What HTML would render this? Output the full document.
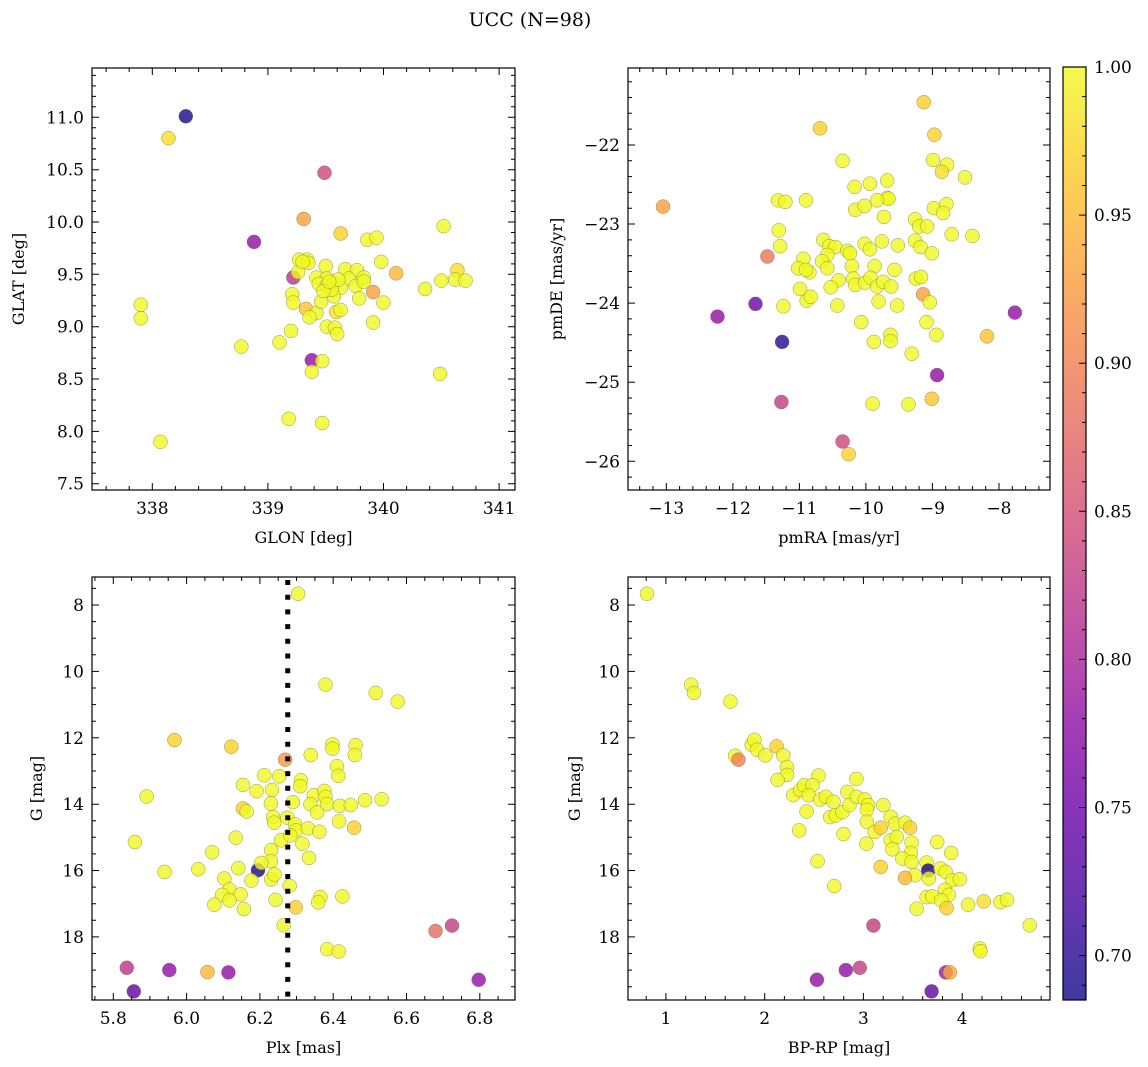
<!DOCTYPE html>
<html><head><meta charset="utf-8"><style>
html,body{margin:0;padding:0;background:#fff;}
svg{display:block;font-family:"DejaVu Serif","Liberation Serif",serif;}
</style></head><body>
<svg id="fig" width="1148" height="1067" viewBox="0 0 1148 1067" xmlns="http://www.w3.org/2000/svg">
<defs>
<linearGradient id="plasmaGrad" x1="0" y1="1" x2="0" y2="0">
<stop offset="0" stop-color="#0d0887"/><stop offset="0.1" stop-color="#41049d"/><stop offset="0.2" stop-color="#6a00a8"/><stop offset="0.3" stop-color="#8f0da4"/><stop offset="0.4" stop-color="#b12a90"/><stop offset="0.5" stop-color="#cc4778"/><stop offset="0.6" stop-color="#e16462"/><stop offset="0.7" stop-color="#f2844b"/><stop offset="0.8" stop-color="#fca636"/><stop offset="0.9" stop-color="#fcce25"/><stop offset="1" stop-color="#f0f921"/>
</linearGradient>
</defs>
<text x="530" y="26" font-size="19" text-anchor="middle">UCC (N=98)</text>
</svg>
<script>
// Panel 1: GLON / GLAT
const p1Glon=[338.29,338.14,339.49,339.31,338.88,337.90,337.90,338.77,338.07,339.18,339.47,339.38,339.47,339.38,340.52,340.49,339.63,339.86,339.94,339.98,340.11,340.36,340.50,340.64,340.62,340.71,339.91,340.00,339.91,339.22,339.26,339.27,339.34,339.35,339.30,339.21,339.22,339.33,339.42,339.36,339.20,339.10,339.51,339.58,339.60,339.59,339.63,339.46,339.50,339.67,339.77,339.70,339.76,339.83,339.83,339.79,339.42,339.51,339.44,339.51,339.57,339.63,339.57,339.55,339.48,339.61,339.53];
const p1Glat=[11.01,10.80,10.47,10.03,9.81,9.21,9.08,8.81,7.90,8.12,8.08,8.68,8.67,8.57,9.96,8.55,9.89,9.83,9.85,9.62,9.51,9.36,9.44,9.54,9.45,9.44,9.33,9.23,9.04,9.47,9.52,9.64,9.64,9.61,9.62,9.31,9.23,9.17,9.13,9.09,8.96,8.85,9.00,8.99,8.93,9.14,9.16,9.24,9.58,9.55,9.54,9.46,9.39,9.47,9.43,9.27,9.47,9.46,9.41,9.39,9.41,9.37,9.29,9.35,9.34,9.45,9.43];
const p1Prob=[0.69,0.98,0.84,0.93,0.78,1,1,1,1,1,1,0.78,1,1,1,1,0.97,1,1,1,0.95,1,1,0.98,1,1,0.93,1,1,0.82,1,1,1,1,1,1,1,0.96,1,1,1,1,1,1,1,0.98,1,1,1,1,1,1,1,1,1,1,1,1,1,1,1,1,1,1,1,1,1];
// Panel 2: pmRA / pmDE
const p2PmRA=[-13.05,-11.48,-11.66,-12.23,-11.26,-11.27,-10.35,-10.26,-7.76,-8.93,-9.01,-9.14,-9.13,-8.97,-10.69,-10.35,-8.99,-8.78,-8.86,-8.51,-10.17,-9.94,-9.68,-9.68,-9.66,-9.83,-10.16,-10.02,-9.73,-8.98,-8.79,-8.84,-11.32,-11.21,-10.90,-11.31,-11.29,-9.26,-9.20,-9.08,-8.71,-8.40,-10.64,-10.55,-10.46,-10.58,-10.66,-10.58,-10.28,-10.24,-10.02,-9.94,-9.76,-9.52,-9.26,-9.18,-9.01,-10.94,-11.02,-10.85,-10.90,-10.21,-9.87,-9.57,-10.19,-10.41,-10.53,-10.16,-10.01,-9.93,-9.83,-9.74,-9.62,-10.99,-10.89,-10.83,-9.25,-9.17,-10.43,-9.81,-9.53,-11.24,-9.04,-10.07,-9.09,-8.94,-9.63,-9.63,-9.88,-9.31,-8.18,-9.90,-9.36];
const p2PmDE=[-22.78,-23.41,-24.01,-24.17,-24.49,-25.25,-25.75,-25.91,-24.12,-24.91,-25.21,-23.89,-21.46,-21.87,-21.79,-22.20,-22.19,-22.25,-22.34,-22.41,-22.53,-22.49,-22.45,-22.67,-22.68,-22.70,-22.82,-22.77,-22.91,-22.80,-22.75,-22.86,-22.70,-22.72,-22.70,-23.08,-23.28,-22.94,-23.03,-23.03,-23.13,-23.15,-23.20,-23.28,-23.29,-23.39,-23.47,-23.56,-23.34,-23.37,-23.25,-23.32,-23.22,-23.27,-23.21,-23.29,-23.37,-23.44,-23.56,-23.61,-23.58,-23.53,-23.53,-23.58,-23.69,-23.71,-23.80,-23.77,-23.74,-23.68,-23.79,-23.73,-23.79,-23.82,-23.97,-23.92,-23.69,-23.67,-24.03,-23.98,-24.03,-24.04,-23.99,-24.24,-24.24,-24.40,-24.40,-24.48,-24.49,-24.64,-24.42,-25.27,-25.28];
const p2Prob=[0.93,0.89,0.75,0.78,0.70,0.83,0.84,0.97,0.78,0.78,0.96,0.93,0.97,0.97,0.97,1,1,1,0.98,1,1,1,1,1,1,1,1,1,1,1,1,1,1,1,1,1,1,1,1,1,1,1,1,1,1,1,1,1,1,1,1,1,1,1,1,1,1,1,1,1,1,1,1,1,1,1,1,1,1,1,1,1,1,1,1,1,1,1,1,1,1,1,1,1,1,1,1,1,1,1,0.96,1,1];
// Panel 3: Plx / G
const p3Plx=[6.304,6.379,6.516,6.576,5.967,6.122,6.269,6.339,6.398,6.398,6.461,6.459,6.410,6.414,5.891,5.859,6.212,6.253,6.154,6.191,6.233,6.312,6.310,6.230,6.290,6.347,6.376,6.379,6.338,6.383,6.418,6.448,6.487,6.532,6.154,6.164,6.356,6.236,6.239,6.275,6.416,6.457,6.296,6.299,6.331,6.362,6.258,6.283,6.316,6.134,6.070,6.334,6.231,6.230,5.940,6.032,6.195,6.204,6.141,6.103,6.177,6.231,6.240,6.117,6.147,6.097,6.076,6.117,6.156,6.243,6.281,6.298,6.365,6.359,6.425,6.265,6.384,6.415,6.679,6.724,5.837,5.953,6.057,6.114,5.856,6.797];
const p3G=[7.66,10.40,10.65,10.91,12.07,12.27,12.66,12.52,12.20,12.33,12.22,12.52,12.86,13.15,13.77,15.14,13.13,13.16,13.42,13.61,13.57,13.28,13.46,13.98,13.94,13.73,13.60,13.78,14.00,14.00,14.05,14.03,13.88,13.85,14.13,14.22,14.25,14.39,14.56,14.41,14.52,14.71,14.61,14.79,14.73,14.83,15.09,14.94,15.19,15.01,15.45,15.62,15.39,15.72,16.04,15.96,15.99,15.77,15.93,16.24,16.30,16.27,16.12,16.57,16.72,16.73,17.03,16.90,17.16,16.88,16.46,17.11,16.80,16.96,16.78,17.65,18.37,18.44,17.82,17.66,18.93,19.00,19.06,19.07,19.64,19.29];
const p3Prob=[1,1,1,1,0.97,0.97,0.92,1,1,1,1,1,1,1,1,1,1,1,1,1,1,1,1,1,1,1,1,1,1,1,1,1,1,1,0.97,1,1,1,1,1,1,0.97,1,1,1,1,1,1,1,1,1,1,1,1,1,1,0.69,1,1,1,1,1,1,1,1,1,1,1,1,1,1,0.97,1,1,1,1,1,1,0.88,0.83,0.82,0.78,0.95,0.78,0.74,0.78];
const p3PlxMean=[6.276];
// Panel 4: BP-RP / G
const p4BpRp=[0.808,1.256,1.283,1.653,1.700,1.734,1.869,1.896,1.922,2.007,2.121,2.188,2.226,2.226,2.131,2.545,2.929,2.289,2.360,2.400,2.485,2.444,2.562,2.619,2.697,2.663,2.720,2.788,2.858,2.838,2.932,3.013,3.047,3.034,2.424,2.350,2.798,3.034,3.114,3.175,3.202,3.030,3.276,3.320,3.421,3.471,3.276,3.337,3.293,3.488,3.481,3.394,3.488,2.535,3.175,3.747,3.889,3.640,3.656,3.781,3.832,3.522,3.421,3.663,3.899,3.976,2.704,3.825,3.865,3.640,3.697,3.788,3.842,3.539,4.060,4.219,4.387,4.455,4.683,3.101,4.178,4.185,2.963,2.821,2.529,3.835,3.875,3.690];
const p4G=[7.66,10.40,10.65,10.91,12.54,12.66,12.21,12.06,12.36,12.53,12.26,12.53,12.88,13.12,13.27,13.14,13.24,13.73,13.58,13.43,13.43,13.73,13.86,13.78,13.93,14.39,14.34,14.24,14.03,13.63,13.78,13.86,14.03,14.17,14.22,14.79,14.90,14.53,14.84,14.71,14.03,15.19,14.38,14.59,14.56,14.71,15.09,14.99,15.36,15.16,15.47,15.64,15.74,15.72,15.89,15.14,15.47,15.76,16.00,15.94,16.04,16.14,16.22,16.24,16.29,16.26,16.47,16.58,16.73,16.80,16.78,16.90,17.13,17.15,17.03,16.93,16.95,16.88,17.65,17.66,18.35,18.43,18.93,19.00,19.29,19.07,19.07,19.64];
const p4Prob=[1,1,1,1,1,0.90,1,1,1,1,0.97,1,1,1,1,1,1,1,1,1,1,1,1,1,1,1,1,1,1,1,1,1,1,1,1,1,1,1,1,0.97,1,1,1,1,1,0.97,1,1,1,1,1,1,1,1,0.97,1,1,1,0.69,1,1,1,0.95,1,1,1,1,1,1,1,1,1,0.97,1,1,0.98,1,1,1,0.83,1,1,0.83,0.78,0.78,0.79,0.94,0.74];
// Colorbar
const cbTicks=[0.70,0.75,0.80,0.85,0.90,0.95,1.00];
const cbMin=0.685, cbMax=1.0;

const NS='http://www.w3.org/2000/svg';
const svg=document.getElementById('fig');
function mk(tag,attrs,parent){const e=document.createElementNS(NS,tag);for(const k in attrs)e.setAttribute(k,attrs[k]);(parent||svg).appendChild(e);return e;}
const stops=[[13,8,135],[65,4,157],[106,0,168],[143,13,164],[177,42,144],[204,71,120],[225,100,98],[242,132,75],[252,166,54],[252,206,37],[240,249,33]];
function plasma(v){let t=(v-cbMin)/(cbMax-cbMin);t=Math.max(0,Math.min(1,t));const f=t*10;const i=Math.min(9,Math.floor(f));const r=f-i;const a=stops[i],b=stops[i+1];return 'rgb('+a.map((c,j)=>Math.round(c+(b[j]-c)*r)).join(',')+')';}
function fmt(v,d){return (v<0?'\u2212':'')+Math.abs(v).toFixed(d);}

function panel(cfg){
  const g=mk('g',{});
  
  
  const {x0,x1,y0,y1,xmin,xmax,ymin,ymax,inv}=cfg;
  const sx=v=>x0+(v-xmin)/(xmax-xmin)*(x1-x0);
  const sy=v=>inv? y0+(v-ymin)/(ymax-ymin)*(y1-y0) : y1-(v-ymin)/(ymax-ymin)*(y1-y0);
  const pg=mk('g',{},g);
  
  
  for(let i=0;i<cfg.xs.length;i++){
    const c=mk('circle',{cx:sx(cfg.xs[i]).toFixed(1),cy:sy(cfg.ys[i]).toFixed(1),r:7,fill:plasma(cfg.cs[i]),'fill-opacity':0.8,stroke:'#6a6a40','stroke-width':0.5,'stroke-opacity':0.7},pg);
    
    
  }
  if(cfg.extra)cfg.extra(g,sx,sy);
  const fr=mk('rect',{x:x0,y:y0,width:x1-x0,height:y1-y0,fill:'none',stroke:'#000','stroke-width':1.2},g);
  
  
  let d='';
  const eps=1e-9;
  for(let v=Math.ceil(xmin/cfg.xminor-eps)*cfg.xminor;v<=xmax+eps;v+=cfg.xminor){
    const maj=Math.abs(v/cfg.xmajor-Math.round(v/cfg.xmajor))<1e-6;const L=maj?7:4;const x=sx(v).toFixed(1);
    d+=`M${x} ${y1}v${-L}M${x} ${y0}v${L}`;
  }
  for(let v=Math.ceil(ymin/cfg.yminor-eps)*cfg.yminor;v<=ymax+eps;v+=cfg.yminor){
    const maj=Math.abs(v/cfg.ymajor-Math.round(v/cfg.ymajor))<1e-6;const L=maj?7:4;const y=sy(v).toFixed(1);
    d+=`M${x0} ${y}h${L}M${x1} ${y}h${-L}`;
  }
  mk('path',{d:d,stroke:'#000','stroke-width':1,fill:'none'},g);
  const xt=mk('g',{'font-size':17,'text-anchor':'middle'},g);
  
  
  cfg.xticks.forEach(v=>{const t=mk('text',{x:sx(v),y:y1+24},xt);t.textContent=fmt(v,cfg.xdec);});
  const yt=mk('g',{'font-size':17,'text-anchor':'end'},g);
  
  
  cfg.yticks.forEach(v=>{const t=mk('text',{x:x0-8,y:sy(v)+6},yt);t.textContent=fmt(v,cfg.ydec);});
  const xl=mk('text',{x:(x0+x1)/2,y:y1+53,'font-size':16,'text-anchor':'middle'},g);
  
  
  xl.textContent=cfg.xlabel;
  const yx=cfg.ylx, yc=(y0+y1)/2;
  const yl=mk('text',{x:yx,y:yc,'font-size':16,'text-anchor':'middle',transform:`rotate(-90 ${yx} ${yc})`},g);
  
  
  yl.textContent=cfg.ylabel;
}

panel({name:'glon-glat-panel',x0:92,x1:515,y0:68,y1:490,xmin:337.478,xmax:341.138,ymin:7.44,ymax:11.471,inv:false,
  xs:p1Glon,ys:p1Glat,cs:p1Prob,xminor:0.2,xmajor:1,yminor:0.1,ymajor:0.5,
  xticks:[338,339,340,341],xdec:0,yticks:[7.5,8,8.5,9,9.5,10,10.5,11],ydec:1,xlabel:'GLON [deg]',ylabel:'GLAT [deg]',ylx:24});
panel({name:'pm-panel',x0:628,x1:1050,y0:68,y1:490,xmin:-13.576,xmax:-7.233,ymin:-26.363,ymax:-21.027,inv:false,
  xs:p2PmRA,ys:p2PmDE,cs:p2Prob,xminor:0.2,xmajor:1,yminor:0.2,ymajor:1,
  xticks:[-13,-12,-11,-10,-9,-8],xdec:0,yticks:[-26,-25,-24,-23,-22],ydec:0,xlabel:'pmRA [mas/yr]',ylabel:'pmDE [mas/yr]',ylx:562});
panel({name:'plx-g-panel',x0:92,x1:515,y0:577,y1:1000,xmin:5.742,xmax:6.896,ymin:7.157,ymax:19.90,inv:true,
  xs:p3Plx,ys:p3G,cs:p3Prob,xminor:0.05,xmajor:0.2,yminor:0.5,ymajor:2,
  xticks:[5.8,6.0,6.2,6.4,6.6,6.8],xdec:1,yticks:[8,10,12,14,16,18],ydec:0,xlabel:'Plx [mas]',ylabel:'G [mag]',ylx:42,
  extra:(g,sx,sy)=>{const l=mk('line',{x1:sx(p3PlxMean[0]),x2:sx(p3PlxMean[0]),y1:580,y2:1000,stroke:'#000','stroke-width':5,'stroke-dasharray':'5 9.7'},g);
    
    }});
panel({name:'cmd-panel',x0:628,x1:1050,y0:577,y1:1000,xmin:0.616,xmax:4.889,ymin:7.157,ymax:19.90,inv:true,
  xs:p4BpRp,ys:p4G,cs:p4Prob,xminor:0.2,xmajor:1,yminor:0.5,ymajor:2,
  xticks:[1,2,3,4],xdec:0,yticks:[8,10,12,14,16,18],ydec:0,xlabel:'BP-RP [mag]',ylabel:'G [mag]',ylx:580});

// colorbar
const cb=mk('g',{});


const cbX0=1063, cbX1=1086, cbTop=67, cbBot=1000;
mk('rect',{x:cbX0,y:cbTop,width:cbX1-cbX0,height:cbBot-cbTop,fill:'url(#plasmaGrad)','fill-opacity':0.8},cb);
mk('rect',{x:cbX0,y:cbTop,width:cbX1-cbX0,height:cbBot-cbTop,fill:'none',stroke:'#000','stroke-width':1.2},cb);
const cby=v=>cbBot-(v-cbMin)/(cbMax-cbMin)*(cbBot-cbTop);
let cbd='';
for(let k=69;k<=100;k++){const v=k/100;const y=cby(v).toFixed(1);const L=(k%5===0)?7:4;cbd+=`M${cbX1} ${y}h${-L}`;}
mk('path',{d:cbd,stroke:'#000','stroke-width':1},cb);
cbTicks.forEach(v=>{
  const t=mk('text',{x:1094,y:cby(v)+6,'font-size':17},cb);
  
  
  t.textContent=v.toFixed(2);
});
</script>
</body></html>
